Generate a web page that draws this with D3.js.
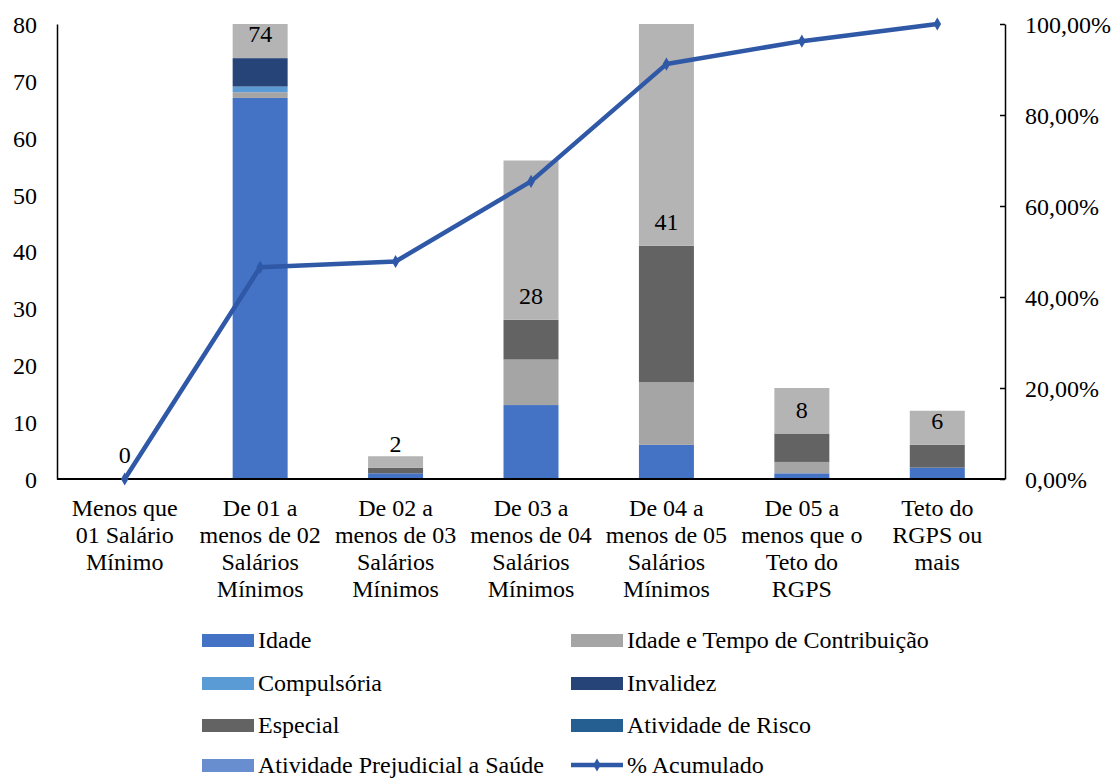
<!DOCTYPE html>
<html>
<head>
<meta charset="utf-8">
<script src="https://cdn.jsdelivr.net/npm/d3@7"></script>
<style>
  html, body { margin: 0; padding: 0; background: #fff; }
  svg text { font-family: "Liberation Serif", Tinos, "Times New Roman", serif; fill: #000; }
</style>
</head>
<body>
<svg id="chart" width="1113" height="778"></svg>
<script>
const categories = [
  ["Menos que", "01 Salário", "Mínimo"],
  ["De 01 a", "menos de 02", "Salários", "Mínimos"],
  ["De 02 a", "menos de 03", "Salários", "Mínimos"],
  ["De 03 a", "menos de 04", "Salários", "Mínimos"],
  ["De 04 a", "menos de 05", "Salários", "Mínimos"],
  ["De 05 a", "menos que o", "Teto do", "RGPS"],
  ["Teto do", "RGPS ou", "mais"]
];
const idade = [0, 67, 1, 13, 6, 1, 2];
const idadeTempo = [0, 1, 0, 8, 11, 2, 0];
const compulsoria = [0, 1, 0, 0, 0, 0, 0];
const invalidez = [0, 5, 0, 0, 0, 0, 0];
const especial = [0, 0, 1, 7, 24, 5, 4];
const atividadeRisco = [0, 0, 0, 0, 0, 0, 0];
const atividadePrejudicial = [0, 0, 0, 0, 0, 0, 0];
const totals = [0, 74, 2, 28, 41, 8, 6];
const acumulado = [0, 46.54, 47.80, 65.41, 91.19, 96.23, 100];
const leftTicks = [0, 10, 20, 30, 40, 50, 60, 70, 80];
const rightTicks = [0, 20, 40, 60, 80, 100];

const seriesNames = ["Idade", "Idade e Tempo de Contribuição", "Compulsória", "Invalidez",
  "Especial", "Atividade de Risco", "Atividade Prejudicial a Saúde", "Total"];
const seriesValues = [idade, idadeTempo, compulsoria, invalidez, especial,
  atividadeRisco, atividadePrejudicial, totals];
const colors = ["#4472c4", "#a5a5a5", "#5b9bd5", "#264478", "#636363", "#255e91", "#698ed0", "#b4b4b4"];
const lineColor = "#2f58a6";
const FONT = '"Liberation Serif", Tinos, "Times New Roman", serif';
const FS = 24;

const svg = d3.select("#chart");
const plotLeft = 57, plotRight = 1005, plotTop = 24, plotBottom = 479;
const keys = categories.map((c, i) => i);

const x = d3.scaleBand().domain(keys).range([plotLeft, plotRight]).paddingInner(0.594).paddingOuter(0.297);
const y = d3.scaleLinear().domain([0, 80]).range([plotBottom, plotTop]);
const y2 = d3.scaleLinear().domain([0, 100]).range([plotBottom, plotTop]);

const rows = keys.map(i => {
  const r = { i };
  seriesNames.forEach((n, s) => r[n] = seriesValues[s][i]);
  return r;
});
const stack = d3.stack().keys(seriesNames)(rows);

svg.append("defs").append("clipPath").attr("id", "plotclip")
  .append("rect").attr("x", plotLeft).attr("y", plotTop).attr("width", plotRight - plotLeft).attr("height", plotBottom - plotTop);

const barsG = svg.append("g").attr("clip-path", "url(#plotclip)");
stack.forEach((layer, s) => {
  barsG.append("g").attr("fill", colors[s])
    .selectAll("rect").data(layer).join("rect")
    .attr("x", d => x(d.data.i))
    .attr("width", x.bandwidth())
    .attr("y", d => y(d[1]))
    .attr("height", d => Math.max(0, y(d[0]) - y(d[1])));
});

// total labels (inside base of total segment)
svg.append("g").selectAll("text").data(keys).join("text")
  .attr("x", i => x(i) + x.bandwidth() / 2)
  .attr("y", i => y(totals[i]) - 16)
  .attr("text-anchor", "middle")
  .attr("font-size", FS)
  .text(i => totals[i]);

// left axis
const ax = svg.append("g").attr("transform", `translate(${plotLeft},0)`)
  .call(d3.axisLeft(y).tickValues(leftTicks).tickSize(0).tickPadding(20));
ax.attr("font-family", FONT);
ax.select(".domain").attr("stroke", "#000").attr("stroke-width", 1.5);
ax.selectAll("text").attr("font-size", FS).attr("fill", "#000").attr("dy", "0.35em");

// right axis
const ax2 = svg.append("g").attr("transform", `translate(${plotRight},0)`)
  .call(d3.axisRight(y2).tickValues(rightTicks).tickSize(0).tickPadding(20)
    .tickFormat(v => v.toFixed(2).replace(".", ",") + "%"));
ax2.attr("font-family", FONT);
ax2.select(".domain").attr("stroke", "#000").attr("stroke-width", 1.5);
ax2.selectAll("text").attr("font-size", FS).attr("fill", "#000").attr("dy", "0.35em");
ax2.selectAll(".tick").append("line").attr("x1", -5).attr("x2", 0).attr("stroke", "#000").attr("stroke-width", 1.5);

// x axis line
svg.append("line").attr("x1", plotLeft).attr("x2", plotRight).attr("y1", plotBottom).attr("y2", plotBottom)
  .attr("stroke", "#000").attr("stroke-width", 2);

// category labels
const catG = svg.append("g");
keys.forEach(i => {
  const t = catG.append("text")
    .attr("x", x(i) + x.bandwidth() / 2)
    .attr("y", 516)
    .attr("text-anchor", "middle")
    .attr("font-size", FS);
  categories[i].forEach((line, k) => {
    t.append("tspan").attr("x", x(i) + x.bandwidth() / 2).attr("dy", k === 0 ? 0 : 27).text(line);
  });
});

// line
const cx = i => x(i) + x.bandwidth() / 2;
svg.append("path").datum(keys)
  .attr("fill", "none").attr("stroke", lineColor).attr("stroke-width", 4.5)
  .attr("stroke-linejoin", "round")
  .attr("d", d3.line().x(i => cx(i)).y(i => y2(acumulado[i])));
svg.append("g").selectAll("path").data(keys).join("path")
  .attr("transform", i => `translate(${cx(i)},${y2(acumulado[i])})`)
  .attr("d", d3.symbol(d3.symbolDiamond, 50))
  .attr("fill", lineColor);

// legend
const legendItems = [
  { name: "Idade", s: 0, col: 0, row: 0 },
  { name: "Idade e Tempo de Contribuição", s: 1, col: 1, row: 0 },
  { name: "Compulsória", s: 2, col: 0, row: 1 },
  { name: "Invalidez", s: 3, col: 1, row: 1 },
  { name: "Especial", s: 4, col: 0, row: 2 },
  { name: "Atividade de Risco", s: 5, col: 1, row: 2 },
  { name: "Atividade Prejudicial a Saúde", s: 6, col: 0, row: 3 },
  { name: "% Acumulado", s: -1, col: 1, row: 3 }
];
const colX = [202, 571];
const rowY = [640, 683, 725, 765];
const lg = svg.append("g");
legendItems.forEach(it => {
  const gx = colX[it.col], gy = rowY[it.row];
  if (it.s >= 0) {
    lg.append("rect").attr("x", gx).attr("y", gy - 6).attr("width", 52).attr("height", 13).attr("fill", colors[it.s]);
  } else {
    lg.append("line").attr("x1", gx).attr("x2", gx + 52).attr("y1", gy).attr("y2", gy)
      .attr("stroke", lineColor).attr("stroke-width", 4.5);
    lg.append("path").attr("transform", `translate(${gx + 26},${gy})`)
      .attr("d", d3.symbol(d3.symbolDiamond, 50)).attr("fill", lineColor);
  }
  lg.append("text").attr("x", gx + 56).attr("y", gy).attr("dy", "0.35em")
    .attr("font-size", FS).text(it.name);
});
</script>
</body>
</html>
